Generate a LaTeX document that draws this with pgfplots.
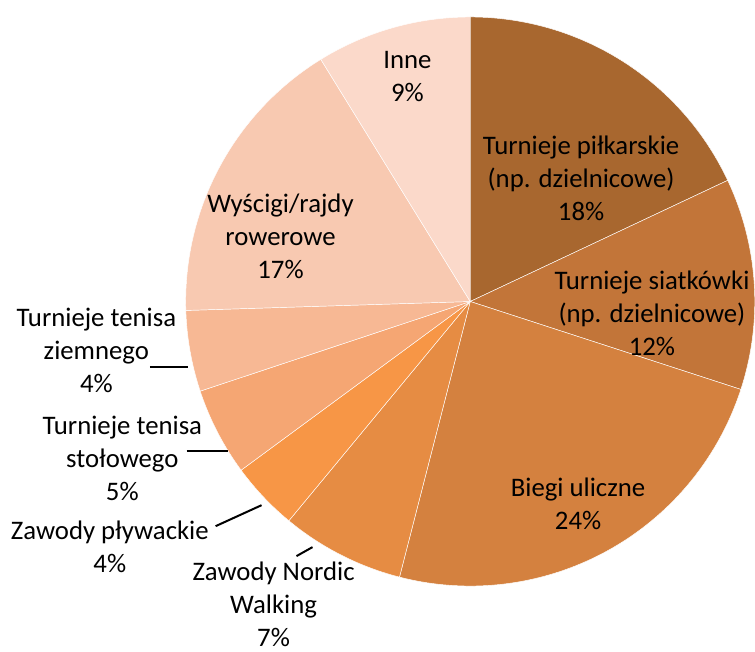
\documentclass[border=0pt]{standalone}
\usepackage{pgfplots}
\pgfplotsset{compat=1.18}
\usepackage{fontspec}
\setmainfont{Carlito}
\definecolor{c1}{RGB}{168,103,47}
\definecolor{c2}{RGB}{194,117,57}
\definecolor{c3}{RGB}{212,129,63}
\definecolor{c4}{RGB}{230,140,67}
\definecolor{c5}{RGB}{247,150,70}
\definecolor{c6}{RGB}{245,166,115}
\definecolor{c7}{RGB}{247,184,148}
\definecolor{c8}{RGB}{248,201,177}
\definecolor{c9}{RGB}{251,217,202}
\tikzset{lab/.style={font=\fontsize{26.8}{33}\selectfont,align=center,text=black,inner sep=0pt}}
\begin{document}
\begin{tikzpicture}
\begin{axis}[x=1pt,y=1pt,xmin=0,xmax=755,ymin=0,ymax=653,hide axis,clip=false,
  scale only axis,
  every axis plot/.append style={draw=white,line width=0.45pt,samples=80,variable=\t}]
\path (axis cs:0,0) rectangle (axis cs:755,653);
% slices: cumulative percentages (clockwise from top); centre (471,351), radius 285
\addplot[fill=c1,domain=0:18]    ({471+285*sin(3.6*\t)},{351+285*cos(3.6*\t)}) -- (axis cs:471,351) -- cycle;
\addplot[fill=c2,domain=18:30]   ({471+285*sin(3.6*\t)},{351+285*cos(3.6*\t)}) -- (axis cs:471,351) -- cycle;
\addplot[fill=c3,domain=30:54]   ({471+285*sin(3.6*\t)},{351+285*cos(3.6*\t)}) -- (axis cs:471,351) -- cycle;
\addplot[fill=c4,domain=54:61]   ({471+285*sin(3.6*\t)},{351+285*cos(3.6*\t)}) -- (axis cs:471,351) -- cycle;
\addplot[fill=c5,domain=61:64.9] ({471+285*sin(3.6*\t)},{351+285*cos(3.6*\t)}) -- (axis cs:471,351) -- cycle;
\addplot[fill=c6,domain=64.9:69.9] ({471+285*sin(3.6*\t)},{351+285*cos(3.6*\t)}) -- (axis cs:471,351) -- cycle;
\addplot[fill=c7,domain=69.9:74.5] ({471+285*sin(3.6*\t)},{351+285*cos(3.6*\t)}) -- (axis cs:471,351) -- cycle;
\addplot[fill=c8,domain=74.5:91.2] ({471+285*sin(3.6*\t)},{351+285*cos(3.6*\t)}) -- (axis cs:471,351) -- cycle;
\addplot[fill=c9,domain=91.2:100]  ({471+285*sin(3.6*\t)},{351+285*cos(3.6*\t)}) -- (axis cs:471,351) -- cycle;
% leader lines
\addplot[draw=black,line width=2pt] coordinates {(150,285) (188,285)};
\addplot[draw=black,line width=2pt] coordinates {(187,201) (228,201)};
\addplot[draw=black,line width=2pt] coordinates {(216,126) (262,147)};
\addplot[draw=black,line width=2pt] coordinates {(297,96) (313,105)};
% labels
\node[lab] at (axis cs:408,576.5) {Inne\\9\%};
\node[lab] at (axis cs:582,474) {Turnieje piłkarskie\\(np. dzielnicowe)\\18\%};
\node[lab] at (axis cs:653,339) {Turnieje siatkówki\\(np. dzielnicowe)\\12\%};
\node[lab] at (axis cs:579,148) {Biegi uliczne\\24\%};
\node[lab] at (axis cs:274,47.5) {Zawody Nordic\\Walking\\7\%};
\node[lab] at (axis cs:110,105.5) {Zawody pływackie\\4\%};
\node[lab] at (axis cs:122.5,194) {Turnieje tenisa\\stołowego\\5\%};
\node[lab] at (axis cs:96.5,302) {Turnieje tenisa\\ziemnego\\4\%};
\node[lab] at (axis cs:281,416) {Wyścigi/rajdy\\rowerowe\\17\%};
\end{axis}
\end{tikzpicture}
\end{document}
